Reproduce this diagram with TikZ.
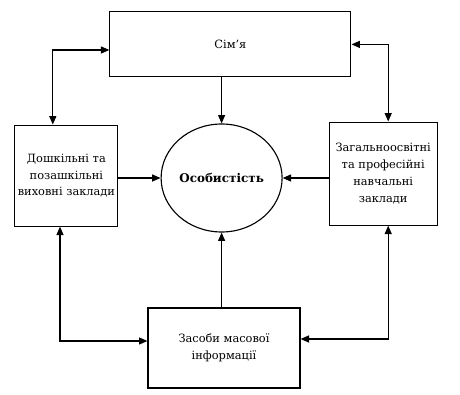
\documentclass[tikz,border=0pt]{standalone}
\usepackage{fontspec}
\setmainfont{DejaVu Serif}
\usepackage{tikz}
\usetikzlibrary{shapes.geometric, arrows.meta, positioning}
\tikzset{
  block/.style={rectangle, draw=black, line width=0.8pt, align=center,
                inner sep=1pt, font=\fontsize{8.1}{12}\selectfont},
  personnode/.style={ellipse, draw=black, line width=0.8pt, align=center,
                inner sep=0pt, font=\fontsize{8.5}{12}\selectfont\bfseries},
  arrow/.style={-{Triangle[length=6pt, width=5pt]}, line width=0.8pt},
  dblarrow/.style={{Triangle[length=6pt, width=5pt]}-{Triangle[length=6pt, width=5pt]}, line width=0.8pt},
}

\begin{document}
\begin{tikzpicture}
  \useasboundingbox (0,0) rectangle (11.5,-9.85);

  % Centre
  \node[personnode, minimum width=3.025cm, minimum height=2.7cm] (osob) at (5.54,-4.45) {Особистість};

  % Surrounding blocks
  \node[block, minimum width=6.025cm, minimum height=1.625cm] (simya) at (5.76,-1.11) {Сім'я};
  \node[block, minimum width=2.575cm, minimum height=2.525cm] (doshk) at (1.66,-4.39)
    {Дошкільні та\\позашкільні\\виховні заклади};
  \node[block, minimum width=2.7cm, minimum height=2.575cm] (zahal) at (9.58,-4.34)
    {Загальноосвітні\\та професійні\\навчальні\\заклади};
  \node[block, minimum width=3.8cm, minimum height=2.0cm] (zasoby) at (5.6,-8.7)
    {Засоби масової\\інформації};

  % Arrows into the centre
  \draw[arrow] (osob.north |- simya.south) -- (osob.north);
  \draw[arrow] (doshk.east |- osob.west) -- (osob.west);
  \draw[arrow] (zahal.west |- osob.east) -- (osob.east);
  \draw[arrow] (osob.south |- zasoby.north) -- (osob.south);

  % Links between blocks
  \draw[dblarrow] ([xshift=-0.34cm]doshk.north) |- ([yshift=-0.14cm]simya.west);
  \draw[dblarrow] ([xshift=0.125cm]zahal.north) |- (simya.east);
  \draw[dblarrow] ([xshift=-0.16cm]doshk.south) |- ([yshift=0.175cm]zasoby.west);
  \draw[dblarrow] ([xshift=0.125cm]zahal.south) |- ([yshift=0.225cm]zasoby.east);

\end{tikzpicture}
\end{document}
